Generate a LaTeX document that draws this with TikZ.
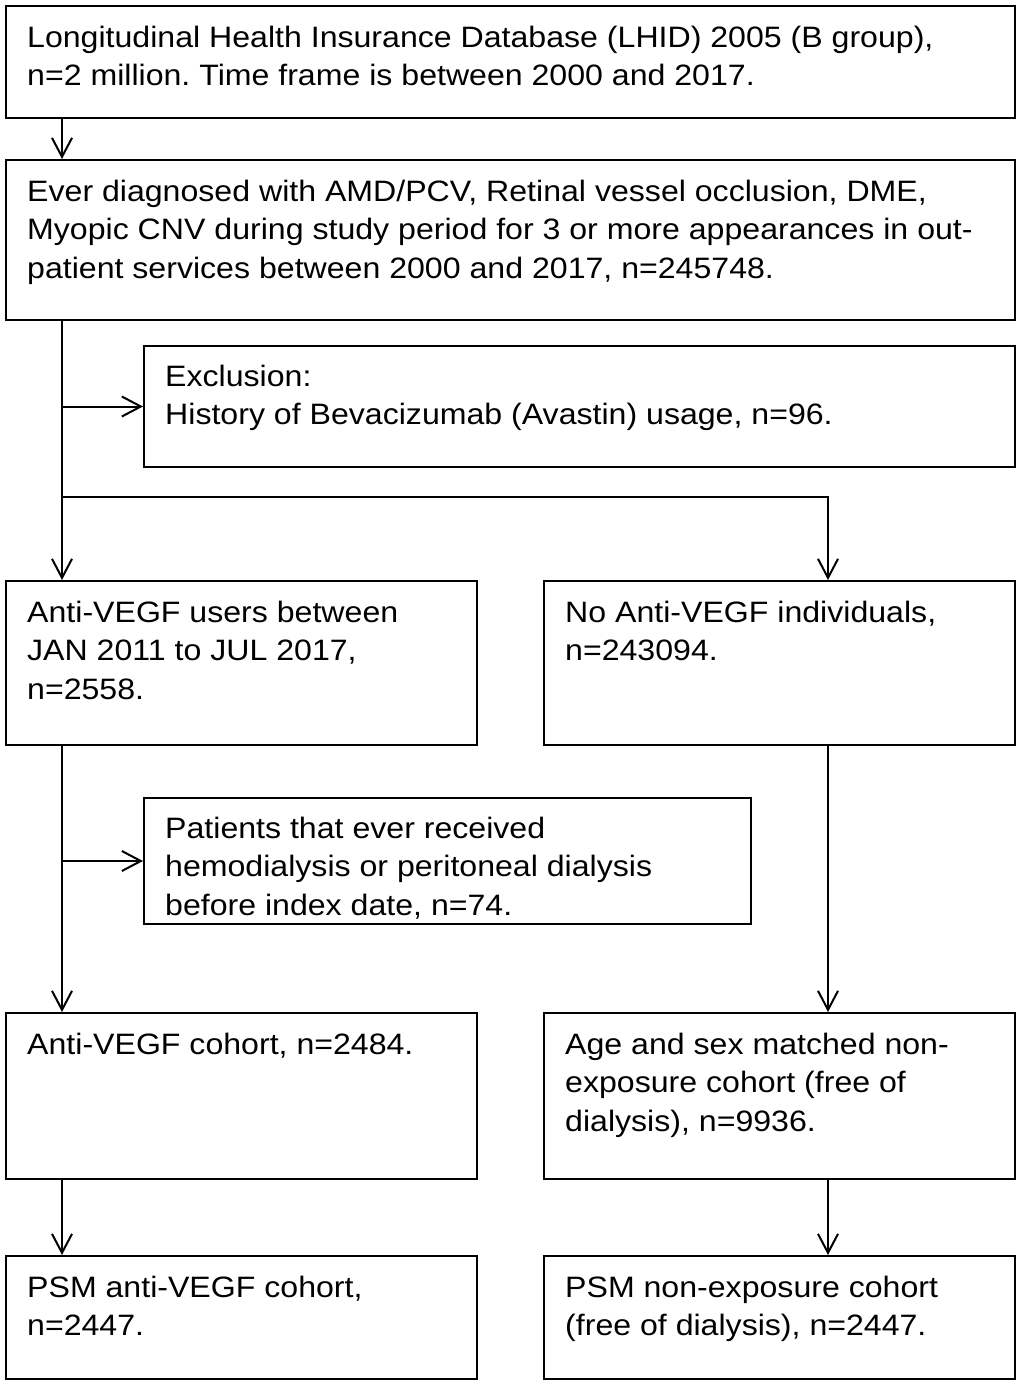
\documentclass[tikz,border=0pt]{standalone}
\usepackage{fontspec}
\setmainfont[FakeStretch=1.088]{Liberation Sans}
\usetikzlibrary{arrows.meta}
\frenchspacing
\begin{document}
\begin{tikzpicture}[x=1pt,y=-1pt,
  box/.style={draw, line width=2pt, inner sep=0pt, anchor=north west},
  txt/.style={anchor=base west, inner sep=0pt, font=\fontsize{29.5}{38.5}\selectfont},
  arr/.style={line width=2pt, -{Straight Barb[length=19pt,width=20pt,line width=2pt]}}]
\useasboundingbox (0,0) rectangle (1020,1384);
% boxes
\node[box, minimum width=1009pt, minimum height=112pt] (b1) at (5,5) {};
\node[box, minimum width=1009pt, minimum height=160pt] (b2) at (5,159) {};
\node[box, minimum width=871pt, minimum height=121pt] (ex) at (143,345) {};
\node[box, minimum width=471pt, minimum height=164pt] (au) at (5,580) {};
\node[box, minimum width=471pt, minimum height=164pt] (na) at (543,580) {};
\node[box, minimum width=607pt, minimum height=126pt] (pt) at (143,797) {};
\node[box, minimum width=471pt, minimum height=166pt] (ac) at (5,1012) {};
\node[box, minimum width=471pt, minimum height=166pt] (am) at (543,1012) {};
\node[box, minimum width=471pt, minimum height=123pt] (pa) at (5,1255) {};
\node[box, minimum width=471pt, minimum height=123pt] (pn) at (543,1255) {};
% texts
\node[txt] (t1) at (27,47) {\parbox[t]{1100pt}{\raggedright Longitudinal Health Insurance Database (LHID) 2005 (B group),\\ n=2 million. Time frame is between 2000 and 2017.}};
\node[txt] (t2) at (27,201) {\parbox[t]{1100pt}{\raggedright Ever diagnosed with AMD/PCV, Retinal vessel occlusion, DME,\\ Myopic CNV during study period for 3 or more appearances in out-\\ patient services between 2000 and 2017, n=245748.}};
\node[txt] (t3) at (165,386) {\parbox[t]{950pt}{\raggedright Exclusion:\\ History of Bevacizumab (Avastin) usage, n=96.}};
\node[txt] (t4) at (27,622) {\parbox[t]{600pt}{\raggedright Anti-VEGF users between\\ JAN 2011 to JUL 2017,\\ n=2558.}};
\node[txt] (t5) at (565,622) {\parbox[t]{600pt}{\raggedright No Anti-VEGF individuals,\\ n=243094.}};
\node[txt] (t6) at (165,838) {\parbox[t]{700pt}{\raggedright Patients that ever received\\ hemodialysis or peritoneal dialysis\\ before index date, n=74.}};
\node[txt] (t7) at (27,1054) {\parbox[t]{600pt}{\raggedright Anti-VEGF cohort, n=2484.}};
\node[txt] (t8) at (565,1054) {\parbox[t]{600pt}{\raggedright Age and sex matched non-\\ exposure cohort (free of\\ dialysis), n=9936.}};
\node[txt] (t9) at (27,1297) {\parbox[t]{600pt}{\raggedright PSM anti-VEGF cohort,\\ n=2447.}};
\node[txt] (t10) at (565,1297) {\parbox[t]{600pt}{\raggedright PSM non-exposure cohort\\ (free of dialysis), n=2447.}};
% connectors
\coordinate (xL) at (62,0);
\coordinate (xR) at (828,0);
\coordinate (yB) at (0,497);
\draw[arr] (b1.south -| xL) -- (b2.north -| xL);
\draw[arr] (b2.south -| xL) -- (au.north -| xL);
\draw[arr] (ex.west -| xL) -- (ex.west);
\draw[arr] (yB -| xL) -| (na.north -| xR);
\draw[arr] (au.south -| xL) -- (ac.north -| xL);
\draw[arr] (pt.west -| xL) -- (pt.west);
\draw[arr] (na.south -| xR) -- (am.north -| xR);
\draw[arr] (ac.south -| xL) -- (pa.north -| xL);
\draw[arr] (am.south -| xR) -- (pn.north -| xR);
\end{tikzpicture}
\end{document}
